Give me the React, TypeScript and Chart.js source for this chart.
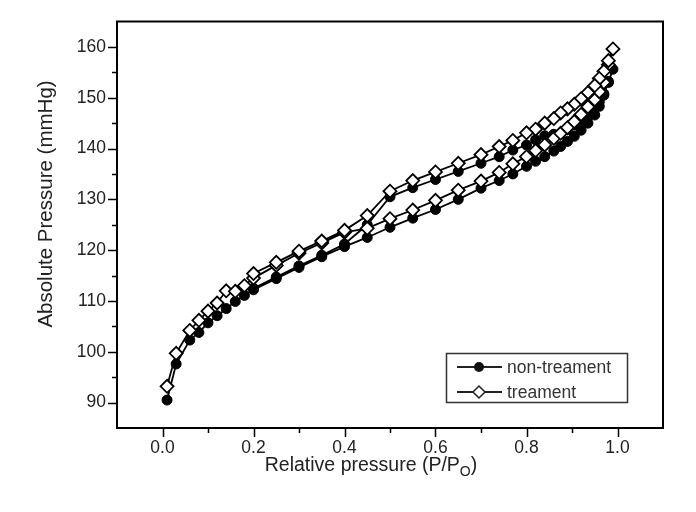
import React, { useEffect, useRef } from "react";
import { Chart, registerables } from "chart.js";

Chart.register(...registerables);

// Relative pressure (P/Po) values: adsorption branch then desorption branch
const adsorptionX = [0.01, 0.03, 0.06, 0.08, 0.10, 0.12, 0.14, 0.16, 0.18, 0.20, 0.25, 0.30, 0.35, 0.40, 0.45, 0.50, 0.55, 0.60, 0.65, 0.70, 0.74, 0.77, 0.80, 0.82, 0.84, 0.86, 0.875, 0.89, 0.905, 0.92, 0.935, 0.95, 0.96, 0.97, 0.98, 0.99];
const desorptionX = [0.98, 0.97, 0.96, 0.95, 0.935, 0.92, 0.905, 0.89, 0.875, 0.86, 0.84, 0.82, 0.80, 0.77, 0.74, 0.70, 0.65, 0.60, 0.55, 0.50, 0.45, 0.40, 0.35, 0.30, 0.25, 0.20];

const nonTreatAds = [90.5, 97.6, 102.3, 103.8, 105.7, 107.1, 108.5, 109.9, 111.1, 112.2, 114.4, 116.6, 118.7, 120.7, 122.5, 124.5, 126.3, 128.0, 130.0, 132.2, 133.7, 135.0, 136.5, 137.5, 138.4, 139.5, 140.4, 141.4, 142.4, 143.6, 145.0, 146.6, 148.3, 150.5, 153.2, 155.6];
const nonTreatDes = [153.0, 150.8, 149.2, 148.0, 146.8, 145.6, 144.6, 143.7, 143.0, 142.8, 142.5, 141.7, 140.7, 139.7, 138.4, 137.1, 135.5, 133.9, 132.3, 130.5, 125.0, 121.2, 119.0, 116.9, 114.7, 112.5];

const treatAds = [93.2, 99.7, 104.2, 106.2, 108.0, 109.6, 112.0, 111.9, 113.0, 114.5, 117.0, 119.4, 121.4, 123.5, 124.3, 126.2, 127.9, 129.8, 131.8, 133.6, 135.3, 137.0, 138.4, 139.6, 140.7, 142.0, 143.0, 144.1, 145.3, 146.7, 148.2, 149.6, 151.2, 153.0, 156.5, 159.6];
const treatDes = [157.3, 155.2, 153.8, 152.4, 151.0, 149.8, 148.7, 147.8, 147.0, 145.9, 145.0, 143.8, 143.1, 141.6, 140.4, 138.8, 137.1, 135.4, 133.7, 131.6, 126.8, 123.9, 121.8, 119.8, 117.6, 115.4];

const xTicks = [0.0, 0.2, 0.4, 0.6, 0.8, 1.0];
const xMinorTicks = [0.1, 0.3, 0.5, 0.7, 0.9];
const yTicks = [90, 100, 110, 120, 130, 140, 150, 160];
const yMinorTicks = [95, 105, 115, 125, 135, 145, 155];

const seriesNames = ["non-treament", "treament"];
const xTitle = "Relative pressure (P/P";
const xTitleSub = "O";
const yTitle = "Absolute Pressure (mmHg)";

const FONT = "'Liberation Sans', Arial, sans-serif";

function toPoints(xs: number[], ys: number[]) {
  return xs.map((x, i) => ({ x, y: ys[i] }));
}

const decorPlugin = {
  id: "decor",
  beforeDatasetsDraw(chart: any) {
    const { ctx, chartArea: a, scales } = chart;
    const x = scales.x;
    const y = scales.y;
    ctx.save();
    ctx.strokeStyle = "#000";
    ctx.lineWidth = 2;
    ctx.strokeRect(a.left, a.top, a.right - a.left, a.bottom - a.top);
    ctx.lineWidth = 1.5;
    ctx.beginPath();
    xTicks.forEach((v) => {
      const px = Math.round(x.getPixelForValue(v)) + 0.5;
      ctx.moveTo(px, a.bottom);
      ctx.lineTo(px, a.bottom + 9);
    });
    xMinorTicks.forEach((v) => {
      const px = Math.round(x.getPixelForValue(v)) + 0.5;
      ctx.moveTo(px, a.bottom);
      ctx.lineTo(px, a.bottom + 5);
    });
    yTicks.forEach((v) => {
      const py = Math.round(y.getPixelForValue(v)) + 0.5;
      ctx.moveTo(a.left, py);
      ctx.lineTo(a.left - 9, py);
    });
    yMinorTicks.forEach((v) => {
      const py = Math.round(y.getPixelForValue(v)) + 0.5;
      ctx.moveTo(a.left, py);
      ctx.lineTo(a.left - 5, py);
    });
    ctx.stroke();

    // axis titles
    ctx.fillStyle = "#222";
    ctx.font = `19.5px ${FONT}`;
    ctx.textBaseline = "middle";
    // x title with subscript
    const mainW = ctx.measureText(xTitle).width;
    ctx.font = `14px ${FONT}`;
    const subW = ctx.measureText(xTitleSub).width;
    ctx.font = `19.5px ${FONT}`;
    const closeW = ctx.measureText(")").width;
    const total = mainW + subW + closeW;
    const cx = 371;
    const cy = 466;
    let sx = cx - total / 2;
    ctx.textAlign = "left";
    ctx.fillText(xTitle, sx, cy);
    sx += mainW;
    ctx.font = `14px ${FONT}`;
    ctx.fillText(xTitleSub, sx, cy + 6);
    sx += subW;
    ctx.font = `19.5px ${FONT}`;
    ctx.fillText(")", sx, cy);

    // y title rotated
    ctx.save();
    ctx.translate(46, 204);
    ctx.rotate(-Math.PI / 2);
    ctx.textAlign = "center";
    ctx.font = `20.5px ${FONT}`;
    ctx.fillText(yTitle, 0, 0);
    ctx.restore();
    ctx.restore();
  },
  afterDraw(chart: any) {
    const { ctx } = chart;
    ctx.save();
    // legend box
    ctx.strokeStyle = "#333";
    ctx.lineWidth = 1.5;
    ctx.strokeRect(446.5, 353.5, 181, 49);
    const rows = [367, 392];
    ctx.font = `17.5px ${FONT}`;
    ctx.textBaseline = "middle";
    ctx.textAlign = "left";
    rows.forEach((ry, i) => {
      ctx.strokeStyle = "#222";
      ctx.lineWidth = 2;
      ctx.beginPath();
      ctx.moveTo(457, ry);
      ctx.lineTo(502, ry);
      ctx.stroke();
      if (i === 0) {
        ctx.fillStyle = "#111";
        ctx.beginPath();
        ctx.arc(479, ry, 5, 0, Math.PI * 2);
        ctx.fill();
      } else {
        ctx.fillStyle = "#fff";
        ctx.lineWidth = 1.5;
        ctx.beginPath();
        ctx.moveTo(479, ry - 6);
        ctx.lineTo(485, ry);
        ctx.lineTo(479, ry + 6);
        ctx.lineTo(473, ry);
        ctx.closePath();
        ctx.fill();
        ctx.stroke();
      }
      ctx.fillStyle = "#333";
      ctx.fillText(seriesNames[i], 507, ry + 1);
    });
    ctx.restore();
  },
};

export default function App() {
  const canvasRef = useRef<HTMLCanvasElement | null>(null);

  useEffect(() => {
    const canvas = canvasRef.current;
    if (!canvas) return;
    const chart = new Chart(canvas, {
      type: "scatter",
      data: {
        datasets: [
          {
            label: seriesNames[0],
            data: toPoints(adsorptionX.concat(desorptionX), nonTreatAds.concat(nonTreatDes)),
            showLine: true,
            borderColor: "#000",
            borderWidth: 1.8,
            backgroundColor: "#000",
            pointBackgroundColor: "#000",
            pointBorderColor: "#000",
            pointStyle: "circle",
            pointRadius: 5,
            pointBorderWidth: 1,
            order: 1,
          },
          {
            label: seriesNames[1],
            data: toPoints(adsorptionX.concat(desorptionX), treatAds.concat(treatDes)),
            showLine: true,
            borderColor: "#000",
            borderWidth: 1.8,
            backgroundColor: "#fff",
            pointBackgroundColor: "#fff",
            pointBorderColor: "#000",
            pointStyle: "rectRot",
            pointRadius: 6.5,
            pointBorderWidth: 1.8,
            order: 0,
          },
        ],
      },
      options: {
        responsive: false,
        animation: false,
        devicePixelRatio: 1,
        layout: { padding: { left: 0, top: 17, right: 33, bottom: 0 } },
        plugins: {
          legend: { display: false },
          tooltip: { enabled: false },
        },
        scales: {
          x: {
            type: "linear",
            min: -0.1,
            max: 1.1,
            grid: { display: false, drawTicks: false },
            border: { display: false },
            afterBuildTicks: (scale: any) => {
              scale.ticks = xTicks.map((v) => ({ value: v }));
            },
            afterFit: (scale: any) => {
              scale.height = 84;
            },
            ticks: {
              padding: 10,
              color: "#222",
              font: { family: FONT, size: 17.5 },
              callback: (v: any) => Number(v).toFixed(1),
            },
          },
          y: {
            type: "linear",
            min: 85,
            max: 165,
            grid: { display: false, drawTicks: false },
            border: { display: false },
            afterBuildTicks: (scale: any) => {
              scale.ticks = yTicks.map((v) => ({ value: v }));
            },
            afterFit: (scale: any) => {
              scale.width = 117;
            },
            ticks: {
              padding: 11,
              color: "#222",
              font: { family: FONT, size: 17.5 },
              callback: (v: any) => String(v),
            },
          },
        },
      },
      plugins: [decorPlugin],
    });
    return () => chart.destroy();
  }, []);

  return (
    <div style={{ position: "fixed", left: 0, top: 0, width: 696, height: 512, background: "#fff" }}>
      <canvas ref={canvasRef} width={696} height={512} style={{ width: 696, height: 512 }} />
    </div>
  );
}
